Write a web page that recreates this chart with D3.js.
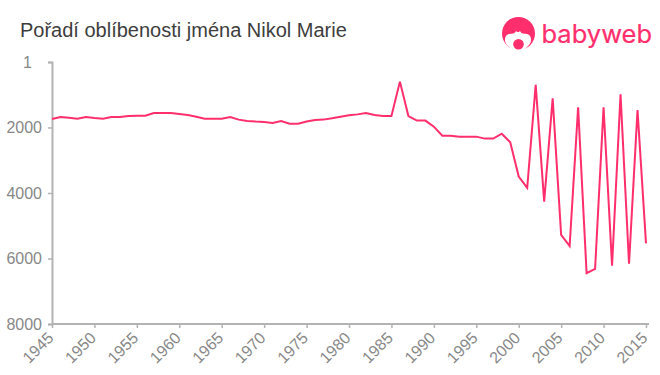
<!DOCTYPE html>
<html>
<head>
<meta charset="utf-8">
<script src="https://d3js.org/d3.v7.min.js"></script>
<style>
  html, body { margin: 0; padding: 0; background: #fff; }
  svg { display: block; }
  text { font-family: "Liberation Sans", Arial, sans-serif; }
</style>
</head>
<body>
<div id="chart"></div>
<script>
const years = [1945,1946,1947,1948,1949,1950,1951,1952,1953,1954,
  1955,1956,1957,1958,1959,1960,1961,1962,1963,1964,
  1965,1966,1967,1968,1969,1970,1971,1972,1973,1974,
  1975,1976,1977,1978,1979,1980,1981,1982,1983,1984,
  1985,1986,1987,1988,1989,1990,1991,1992,1993,1994,
  1995,1996,1997,1998,1999,2000,2001,2002,2003,2004,
  2005,2006,2007,2008,2009,2010,2011,2012,2013,2014,2015];
const ranks = [1740,1680,1700,1730,1680,1710,1730,1680,1680,1650,
  1640,1640,1557,1557,1557,1590,1620,1670,1730,1730,
  1730,1680,1760,1800,1820,1830,1860,1800,1883,1883,
  1820,1770,1760,1720,1670,1630,1600,1557,1620,1650,
  1650,600,1650,1790,1790,1975,2250,2250,2280,2280,
  2280,2340,2340,2190,2450,3500,3840,700,4265,1110,
  5280,5620,1385,6450,6320,1385,6220,990,6160,1470,5540];
const xTicks = [1945,1950,1955,1960,1965,1970,1975,1980,1985,1990,1995,2000,2005,2010,2015];
const yTicks = [1,2000,4000,6000,8000];

const width = 660, height = 375,
  margin = ({ top: 62, right: 14, bottom: 51, left: 52 });
const pink = "#ff2e6c";

const svg = d3.select("#chart")
  .append("svg")
  .attr("width", width)
  .attr("height", height)
  .attr("viewBox", [0, 0, width, height]);

svg.append("text")
  .attr("x", 20)
  .attr("y", 37)
  .attr("fill", "#3d3d3d")
  .style("font-size", "20px")
  .text("Pořadí oblíbenosti jména Nikol Marie");

let x = d3.scaleLinear([1945, 2015], [margin.left, width - margin.right]);
let y = d3.scaleLinear([1, 8000], [margin.top, height - margin.bottom]);

const gx = svg.append("g")
  .attr("transform", `translate(0,${height - margin.bottom})`)
  .call(d3.axisBottom(x).tickValues(xTicks).tickFormat(d3.format("d")).tickSize(4));
gx.selectAll("text")
  .attr("x", 0)
  .attr("y", 0)
  .attr("dy", 0)
  .attr("text-anchor", "end")
  .attr("transform", "translate(2,15) rotate(-45)")
  .attr("fill", "#888")
  .style("font-size", "16px");
// the baseline runs a little past the last tick
gx.select(".domain").attr("d", `M${x(1945)},0H${x(2015) + 3}`);

const gy = svg.append("g")
  .attr("transform", `translate(${margin.left},0)`)
  .call(d3.axisLeft(y).tickValues(yTicks).tickFormat(d3.format("d")).tickSize(4).tickPadding(6));
gy.selectAll("text")
  .attr("fill", "#888")
  .style("font-size", "16px");
gy.selectAll("text").filter(d => d === 1).attr("dx", -10);

svg.selectAll(".domain").attr("stroke", "#b3b3b3").attr("stroke-width", 2);
svg.selectAll(".tick line").attr("stroke", "#b3b3b3").attr("stroke-width", 1.5);

svg.append("path")
  .datum(ranks)
  .attr("fill", "none")
  .attr("stroke", pink)
  .attr("stroke-width", 2)
  .attr("d", d3.line().x((d, i) => x(years[i])).y(d => y(d)));

// logo
const logo = svg.append("g").attr("fill", pink);
logo.append("circle").attr("cx", 518.5).attr("cy", 33.5).attr("r", 16.5);
logo.append("path")
  .attr("fill", "#fff")
  .attr("d", "M507 45c-3-3-3-10 2-11c3-1 5 1 7-3c1 1 1 1 2 1c1 0 1 0 2-1c2 4 4 2 7 3c5 1 5 8 2 11l-6 6h-10z");
logo.append("circle").attr("cx", 518.5).attr("cy", 44.3).attr("r", 5.3);
logo.append("text")
  .attr("x", 541.5)
  .attr("y", 43)
  .attr("stroke", pink)
  .attr("stroke-width", 0.2)
  .style("font-family", "Inter")
  .style("font-size", "25.5px")
  .text("babyweb");
</script>
</body>
</html>
